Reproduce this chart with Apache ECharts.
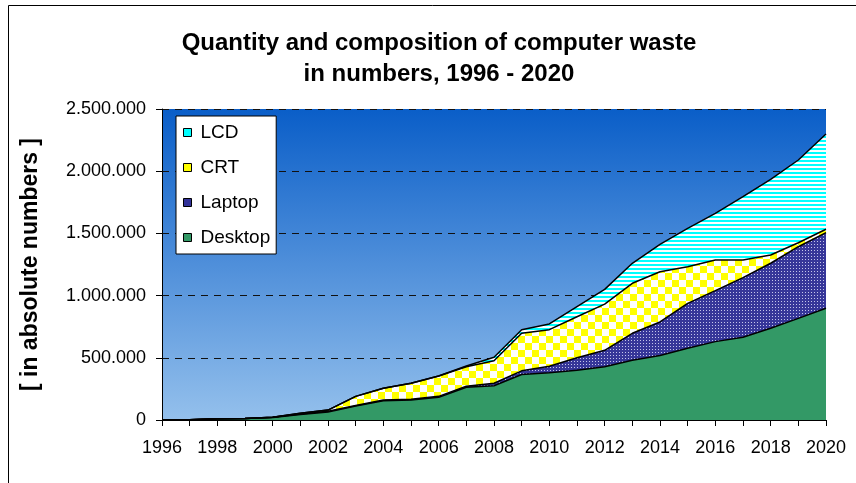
<!DOCTYPE html>
<html>
<head>
<meta charset="utf-8">
<script src="https://cdn.jsdelivr.net/npm/echarts@6/dist/echarts.min.js"></script>
<style>
  html, body { margin: 0; padding: 0; background: #fff; }
  #chart { width: 856px; height: 483px; }
</style>
</head>
<body>
<div id="chart"></div>
<script>
// years on the x axis
const years = ['1996', '1997', '1998', '1999', '2000', '2001', '2002', '2003', '2004', '2005',
  '2006', '2007', '2008', '2009', '2010', '2011', '2012', '2013', '2014', '2015',
  '2016', '2017', '2018', '2019', '2020']

// stacked values, bottom to top
const desktop = [0, 3000, 10000, 12000, 20000, 45000, 65000, 112000, 155000, 160000,
  182000, 263000, 275000, 366000, 379000, 400000, 428000, 480000, 518000, 576000,
  630000, 665000, 737000, 817000, 898000]
const laptop = [0, 0, 0, 0, 2000, 4000, 5000, 5000, 5000, 7000,
  8000, 9000, 20000, 29000, 53000, 100000, 132000, 217000, 270000, 362000,
  410000, 479000, 523000, 576000, 608000]
const crt = [0, 0, 0, 0, 0, 6000, 10000, 73000, 95000, 128000,
  164000, 156000, 181000, 302000, 294000, 330000, 372000, 402000, 404000, 294000,
  246000, 142000, 66000, 32000, 27000]
const lcd = [0, 0, 0, 0, 0, 0, 0, 0, 0, 0,
  0, 6000, 28000, 29000, 46000, 81000, 118000, 161000, 219000, 309000,
  375000, 509000, 609000, 665000, 766000]

// small canvas tiles used as fill patterns
function makeTile(w, h, draw) {
  const c = document.createElement('canvas')
  c.width = w
  c.height = h
  draw(c.getContext('2d'))
  return c
}

const stripes = makeTile(4, 4, ctx => {
  ctx.fillStyle = '#ffffff'
  ctx.fillRect(0, 0, 4, 4)
  ctx.fillStyle = '#00ffff'
  ctx.fillRect(0, 0, 4, 2)
})
const checker = makeTile(14, 14, ctx => {
  ctx.fillStyle = '#ffffff'
  ctx.fillRect(0, 0, 14, 14)
  ctx.fillStyle = '#ffff00'
  ctx.fillRect(0, 0, 7, 7)
  ctx.fillRect(7, 7, 7, 7)
})
const dots = makeTile(3, 3, ctx => {
  ctx.fillStyle = '#363699'
  ctx.fillRect(0, 0, 3, 3)
  ctx.fillStyle = '#c4c4ea'
  ctx.fillRect(1, 1, 1, 1)
})

function fmt(v) {
  return String(v).replace(/\B(?=(\d{3})+(?!\d))/g, '.')
}

function areaSeries(name, data, fill, solid) {
  return {
    name: name,
    type: 'line',
    stack: 'waste',
    data: data,
    symbol: 'none',
    itemStyle: { color: solid },
    lineStyle: { color: '#000', width: 1.5 },
    areaStyle: { color: fill, opacity: 1 },
  }
}

const chart = echarts.init(document.getElementById('chart'), null, { renderer: 'canvas' })

chart.setOption({
  animation: false,
  backgroundColor: '#fff',
  title: {
    text: 'Quantity and composition of computer waste\nin numbers, 1996 - 2020',
    left: 434,
    top: 23,
    textAlign: 'center',
    padding: 5,
    textStyle: {
      fontFamily: 'Liberation Sans, Arial, sans-serif',
      fontSize: 24,
      fontWeight: 'bold',
      lineHeight: 31,
      color: '#000',
    },
  },
  legend: {
    orient: 'vertical',
    left: 176,
    top: 116,
    data: [
      { name: 'LCD', itemStyle: { color: '#00ffff' } },
      { name: 'CRT', itemStyle: { color: '#ffff00' } },
      { name: 'Laptop', itemStyle: { color: '#333399' } },
      { name: 'Desktop', itemStyle: { color: '#339966' } },
    ],
    icon: 'rect',
    itemWidth: 8,
    itemHeight: 8,
    itemGap: 16,
    padding: [7, 6, 7, 7],
    backgroundColor: '#fff',
    borderColor: '#000',
    borderWidth: 1,
    borderRadius: 0,
    itemStyle: { borderColor: '#000', borderWidth: 1 },
    textStyle: {
      fontFamily: 'Liberation Sans, Arial, sans-serif',
      fontSize: 19,
      color: '#000',
      padding: [0, 0, 0, 4],
    },
  },
  grid: {
    left: 162,
    right: 30,
    top: 109,
    bottom: 63,
    show: true,
    borderWidth: 0,
    backgroundColor: new echarts.graphic.LinearGradient(0, 0, 0, 1, [
      { offset: 0, color: '#0a5ec8' },
      { offset: 1, color: '#94c0ec' },
    ]),
  },
  xAxis: {
    type: 'category',
    data: years,
    boundaryGap: false,
    axisLine: { lineStyle: { color: '#000', width: 1 } },
    axisTick: { interval: 0, length: 6, lineStyle: { color: '#000' } },
    axisLabel: {
      interval: 1,
      margin: 19,
      fontFamily: 'Liberation Sans, Arial, sans-serif',
      fontSize: 18,
      color: '#000',
    },
    splitLine: { show: false },
  },
  yAxis: {
    type: 'value',
    min: 0,
    max: 2500000,
    interval: 500000,
    name: '[ in absolute numbers ]',
    nameLocation: 'middle',
    nameGap: 120,
    nameTextStyle: {
      fontFamily: 'Liberation Sans, Arial, sans-serif',
      fontSize: 23,
      fontWeight: 'bold',
      color: '#000',
    },
    axisLine: { show: true, lineStyle: { color: '#000', width: 1 } },
    axisTick: { show: true, length: 6, lineStyle: { color: '#000' } },
    axisLabel: {
      margin: 16,
      formatter: fmt,
      fontFamily: 'Liberation Sans, Arial, sans-serif',
      fontSize: 18,
      color: '#000',
    },
    splitLine: { lineStyle: { color: '#111', type: [7, 6], width: 1 } },
  },
  graphic: [{
    type: 'rect',
    shape: { x: 8.5, y: 5.5, width: 900, height: 520 },
    style: { fill: 'none', stroke: '#000', lineWidth: 1 },
    silent: true,
  }],
  series: [
    areaSeries('Desktop', desktop, '#339966', '#339966'),
    areaSeries('Laptop', laptop, { image: dots, repeat: 'repeat' }, '#333399'),
    areaSeries('CRT', crt, { image: checker, repeat: 'repeat' }, '#ffff00'),
    areaSeries('LCD', lcd, { image: stripes, repeat: 'repeat' }, '#00ffff'),
  ],
})
</script>
</body>
</html>
